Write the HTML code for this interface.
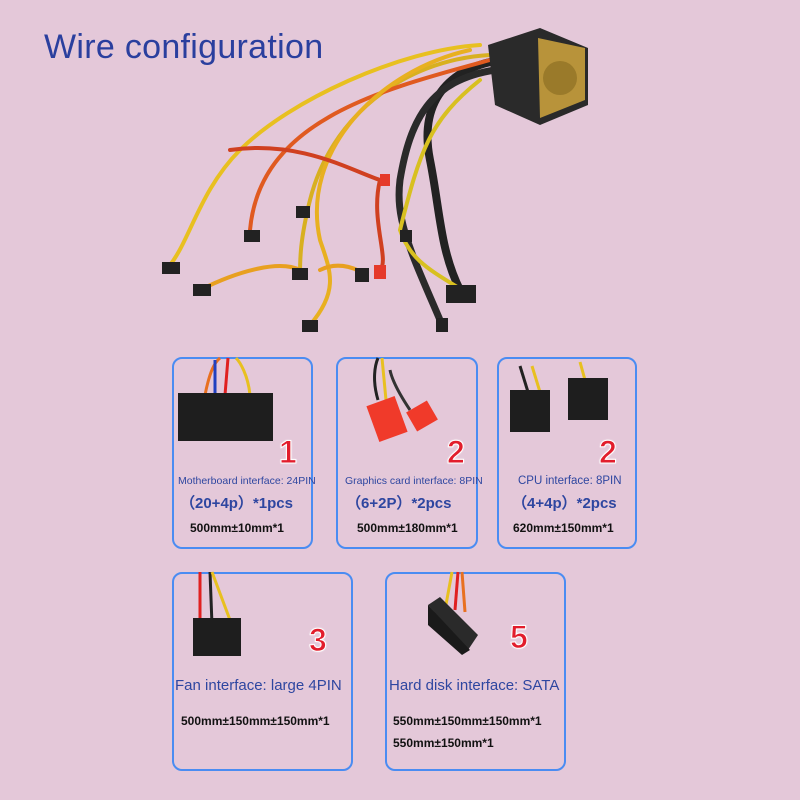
<!DOCTYPE html>
<html><head><meta charset="utf-8"><style>
body{margin:0;width:800px;height:800px;background:#e4c8d9;position:relative;overflow:hidden;font-family:"Liberation Sans",sans-serif}
.t{position:absolute;left:44px;top:28px;font-size:34px;color:#2a3f9e;font-weight:normal;letter-spacing:0.3px}
.b{position:absolute;border:2px solid #4a8cf2;border-radius:10px;box-sizing:border-box}
.n{position:absolute;font-size:32px;font-weight:bold;color:#e21d2c;font-family:"Liberation Sans",sans-serif;-webkit-text-stroke:1px #fff;text-shadow:0 0 2px #fff}
.s{position:absolute;font-size:10.5px;color:#2e46a0;white-space:nowrap}
.m{position:absolute;font-size:15px;color:#2e46a0;font-weight:bold;white-space:nowrap}
.d{position:absolute;font-size:12px;font-weight:bold;color:#111;white-space:nowrap}
.f{position:absolute;font-size:15px;color:#2e46a0;white-space:nowrap}
</style></head><body>
<div class="t">Wire configuration</div>
<svg width="800" height="350" style="position:absolute;left:0;top:0">
<g fill="none" stroke-width="4" stroke-linecap="round">
<path d="M500 60 C440 70 420 110 430 160 C440 210 440 250 460 290" stroke="#222" stroke-width="8"/>
<path d="M495 70 C430 80 410 120 400 180 C395 220 410 250 440 320" stroke="#2a2a2a" stroke-width="7"/>
<path d="M490 55 C400 60 330 120 310 200 C300 240 300 260 300 275" stroke="#d8b020"/>
<path d="M490 60 C380 90 260 120 250 230" stroke="#e05a20"/>
<path d="M480 45 C400 50 290 100 240 150 C200 190 190 240 170 265" stroke="#e8c020"/>
<path d="M470 50 C380 70 300 150 320 240 C330 270 340 290 310 325" stroke="#e8b020"/>
<path d="M230 150 C300 140 350 170 380 180 C370 220 390 260 380 270" stroke="#d04020"/>
<path d="M200 290 C240 270 280 260 300 270" stroke="#e8a020"/>
<path d="M320 270 C340 260 360 270 365 275" stroke="#e8a020"/>
<path d="M480 80 C430 120 420 150 400 230 C410 260 430 270 462 290" stroke="#d8c020"/>
</g>
<g fill="#222"><rect x="162" y="262" width="18" height="12"/><rect x="193" y="284" width="18" height="12"/><rect x="244" y="230" width="16" height="12"/><rect x="292" y="268" width="16" height="12"/><rect x="296" y="206" width="14" height="12"/><rect x="355" y="268" width="14" height="14"/><rect x="302" y="320" width="16" height="12"/><rect x="446" y="285" width="30" height="18"/><rect x="436" y="318" width="12" height="14"/><rect x="400" y="230" width="12" height="12"/></g>
<g fill="#e53a2a"><rect x="374" y="265" width="12" height="14"/><rect x="380" y="174" width="10" height="12"/></g>
<polygon points="488,45 540,28 588,48 588,105 540,125 495,105" fill="#2a2a2a"/>
<polygon points="538,38 585,48 585,100 540,118" fill="#b8933a"/>
<circle cx="560" cy="78" r="17" fill="#9a7a2a"/>
</svg>
<div class="b" style="left:172px;top:357px;width:141px;height:192px"></div>
<div class="b" style="left:336px;top:357px;width:142px;height:192px"></div>
<div class="b" style="left:497px;top:357px;width:140px;height:192px"></div>
<div class="b" style="left:172px;top:572px;width:181px;height:199px"></div>
<div class="b" style="left:385px;top:572px;width:181px;height:199px"></div>
<svg width="800" height="800" style="position:absolute;left:0;top:0">
<g fill="none" stroke-width="3"><path d="M205 395 C210 370 215 362 220 358" stroke="#e87020"/><path d="M225 395 L228 358" stroke="#e02020"/><path d="M250 395 C248 375 240 362 236 358" stroke="#e8c020"/><path d="M215 395 L215 360" stroke="#2040c0"/>
<path d="M378 400 C372 380 375 365 378 358" stroke="#222"/><path d="M386 400 L382 358" stroke="#e8c020"/><path d="M410 410 C400 395 392 380 390 370" stroke="#333"/>
<path d="M528 392 L520 366" stroke="#222"/><path d="M540 392 L532 366" stroke="#e8c020"/><path d="M585 380 L580 362" stroke="#e8c020"/>
<path d="M200 625 L200 572" stroke="#e02020"/><path d="M212 625 L210 572" stroke="#222"/><path d="M230 620 L212 572" stroke="#e8c020"/>
<path d="M445 610 L452 572" stroke="#e8c020"/><path d="M455 610 L458 572" stroke="#e02020"/><path d="M465 612 L462 572" stroke="#e87020"/></g>
<rect x="178" y="393" width="95" height="48" fill="#1e1e1e"/>
<rect x="372" y="400" width="30" height="38" fill="#f03a2a" transform="rotate(-20 387 419)"/><rect x="410" y="405" width="24" height="22" fill="#f03a2a" transform="rotate(-30 422 416)"/>
<rect x="510" y="390" width="40" height="42" fill="#1e1e1e"/><rect x="568" y="378" width="40" height="42" fill="#1e1e1e"/>
<rect x="193" y="618" width="48" height="38" fill="#1e1e1e"/>
<polygon points="428,605 440,597 478,635 468,650" fill="#2a2a2a"/><polygon points="428,605 428,625 462,655 470,650" fill="#1a1a1a"/>
</svg>
<div class="n" style="left:279px;top:434px">1</div>
<div class="n" style="left:447px;top:434px">2</div>
<div class="n" style="left:599px;top:434px">2</div>
<div class="n" style="left:309px;top:622px">3</div>
<div class="n" style="left:510px;top:619px">5</div>
<div class="s" style="left:178px;top:475px">Motherboard interface: 24PIN</div>
<div class="m" style="left:180px;top:492px">（20+4p）*1pcs</div>
<div class="d" style="left:190px;top:521px">500mm±10mm*1</div>
<div class="s" style="left:345px;top:475px">Graphics card interface: 8PIN</div>
<div class="m" style="left:346px;top:492px">（6+2P）*2pcs</div>
<div class="d" style="left:357px;top:521px">500mm±180mm*1</div>
<div class="s" style="left:518px;top:475px;font-size:11.5px">CPU interface: 8PIN</div>
<div class="m" style="left:512px;top:492px">（4+4p）*2pcs</div>
<div class="d" style="left:513px;top:521px">620mm±150mm*1</div>
<div class="f" style="left:175px;top:677px">Fan interface: large 4PIN</div>
<div class="d" style="left:181px;top:714px">500mm±150mm±150mm*1</div>
<div class="f" style="left:389px;top:677px">Hard disk interface: SATA</div>
<div class="d" style="left:393px;top:714px">550mm±150mm±150mm*1</div>
<div class="d" style="left:393px;top:736px">550mm±150mm*1</div>
</body></html>
